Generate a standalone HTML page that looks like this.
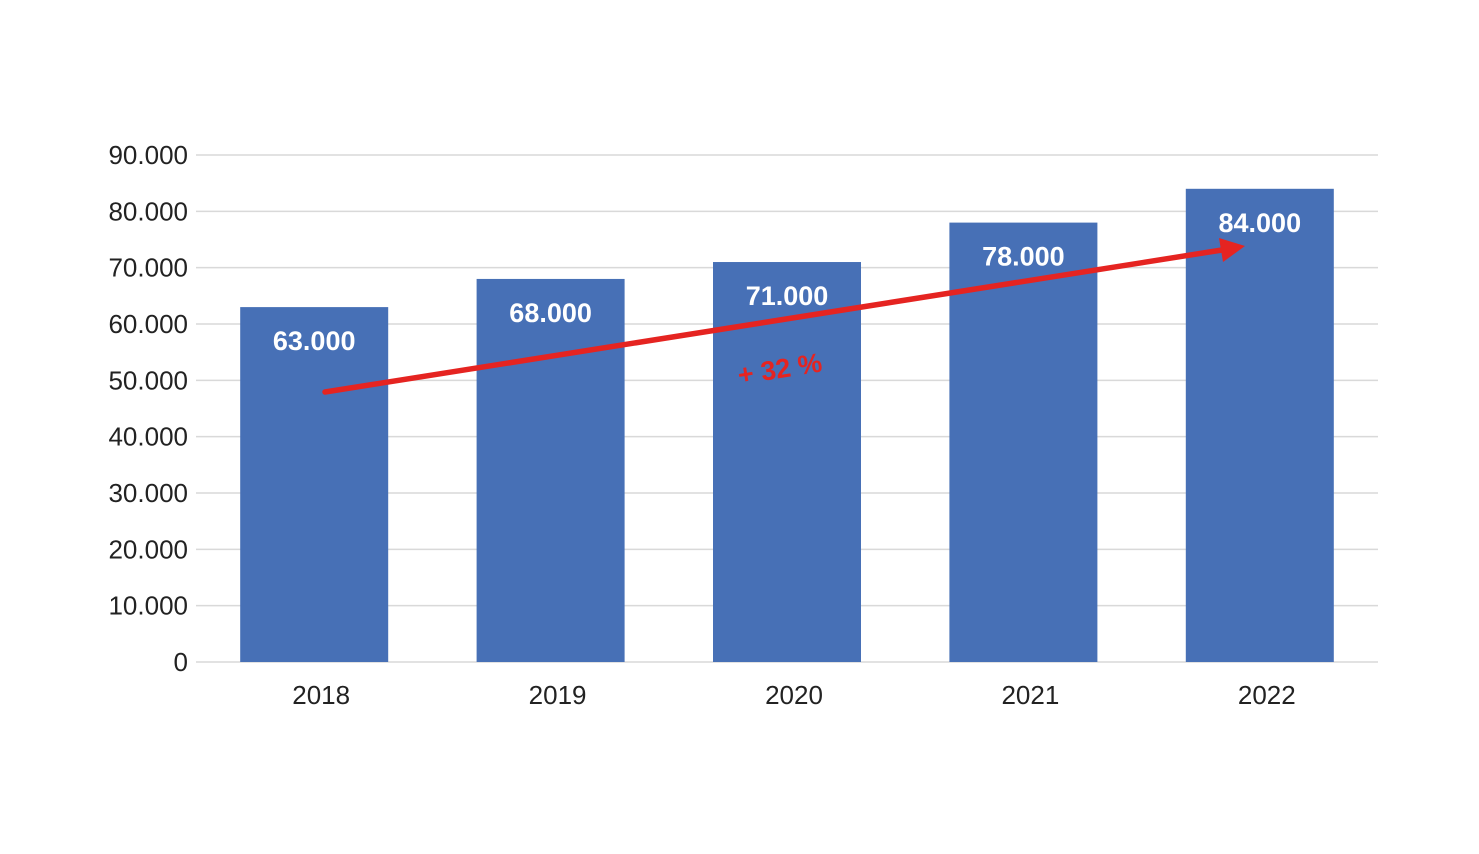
<!DOCTYPE html>
<html><head><meta charset="utf-8"><style>
html,body{margin:0;padding:0;background:#fff;}
svg{display:block;font-family:"Liberation Sans",sans-serif;}
</style></head><body>
<svg id="chart" width="1479" height="854" viewBox="0 0 1479 854" xmlns="http://www.w3.org/2000/svg"></svg>
<script>
const categories = ["2018","2019","2020","2021","2022"];
const values = [63000,68000,71000,78000,84000];
const valueLabels = ["63.000","68.000","71.000","78.000","84.000"];
const yTicks = [0,10000,20000,30000,40000,50000,60000,70000,80000,90000];
const yTickLabels = ["0","10.000","20.000","30.000","40.000","50.000","60.000","70.000","80.000","90.000"];
const growthLabel = "+ 32 %";

const NS="http://www.w3.org/2000/svg";
const svg=document.getElementById('chart');
const x0=196,x1=1378,y0=662,yTop=155,yMax=90000;
const band=(x1-x0)/categories.length, barW=148;
const yScale=v=>y0-(v/yMax)*(y0-yTop);
const xCenter=i=>x0+band*(i+0.5);
function mk(tag,attrs,parent){const e=document.createElementNS(NS,tag);for(const k in attrs)e.setAttribute(k,attrs[k]);(parent||svg).appendChild(e);return e;}

const grid=mk('g',{});


yTicks.forEach((t,i)=>{
  const y=yScale(t);
  const l=mk('line',{x1:x0,x2:x1,y1:y,y2:y,stroke:'#d9d9d9','stroke-width':1.5},grid);
  
  
  const tx=mk('text',{x:188,y:y+9,'text-anchor':'end','font-size':26,fill:'#222'});
  tx.textContent=yTickLabels[i];
  
  
});

categories.forEach((c,i)=>{
  const cx=xCenter(i), y=yScale(values[i]);
  const r=mk('rect',{x:cx-barW/2,y:y,width:barW,height:y0-y,fill:'#4770b6'});
  
  
  const vl=mk('text',{x:cx,y:y+43,'text-anchor':'middle','font-size':27,'font-weight':'bold',fill:'#fff'});
  vl.textContent=valueLabels[i];
  
  
  const xl=mk('text',{x:cx+7,y:704,'text-anchor':'middle','font-size':26,fill:'#222'});
  xl.textContent=c;
  
  
});

const arrow=mk('g',{});


mk('line',{x1:325,y1:392,x2:1222,y2:250,stroke:'#e52421','stroke-width':5.5,'stroke-linecap':'round'},arrow);
mk('polygon',{points:'1245,246 1219,238 1223,262',fill:'#e52421'},arrow);
const gl=mk('text',{x:780,y:378,'text-anchor':'middle','font-size':27,'font-weight':'bold',fill:'#e52421',transform:'rotate(-9 780 370)'});
gl.textContent=growthLabel;


</script>
</body></html>
